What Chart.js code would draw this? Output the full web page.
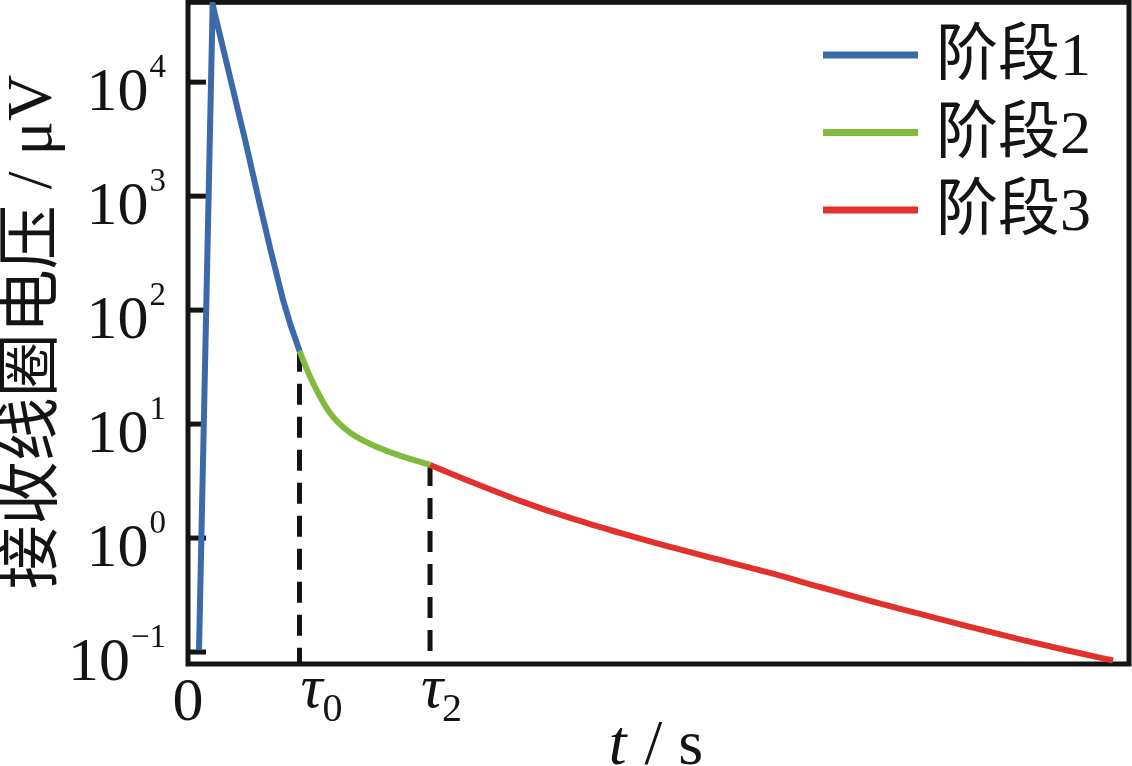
<!DOCTYPE html>
<html><head><meta charset="utf-8">
<script src="https://cdn.jsdelivr.net/npm/chart.js@4.4.1/dist/chart.umd.min.js"></script>
<style>html,body{margin:0;padding:0;background:#fff;overflow:hidden}#wrap{width:1132px;height:766px}</style>
</head><body><div id="wrap"><canvas id="c" width="1132" height="766"></canvas></div>
<script>
// ---- data ----
const stageLabels = ['阶段1', '阶段2', '阶段3'];
const stage1T = [1.17, 2.62, 4.58, 6.06, 7.44, 8.77, 10.10, 10.89, 11.85];
const stage1V = [0.104, 47900, 10100, 3130, 990, 338, 123, 74.3, 44];
const stage2T = [11.85, 12.22, 13.28, 15.09, 17.22, 20.09, 23.27, 25.72];
const stage2V = [44, 36.6, 23.0, 12.5, 8.4, 6.3, 5.05, 4.38];
const stage3T = [25.72, 29.97, 35.28, 40.60, 45.91, 51.22, 56.54, 61.85, 67.16, 72.48, 77.79, 83.10, 88.42, 93.73, 98.30];
const stage3V = [4.38, 3.14, 2.12, 1.50, 1.11, 0.836, 0.643, 0.494, 0.372, 0.281, 0.216, 0.166, 0.129, 0.102, 0.0842];
const tau0 = 11.85, tau2 = 25.72;
const tau0V = 44, tau2V = 4.38;
const xTickValues = [0, tau0, tau2];
const xTickMain = ['0', 'τ', 'τ'];
const xTickSub = ['', '0', '2'];
const yTickExponents = [-1, 0, 1, 2, 3, 4];
const xMin = 0, xMax = 100, yMin = 0.0785, yMax = 50500;
const xTitle = ['t', ' / s'];
const yTitle = '接收线圈电压 / μV';

const colors = ['#3b69a9', '#80bb3d', '#e2312d'];
const ink = '#141414';
const SERIF = '"Liberation Serif", "Noto Sans CJK SC", serif';

const pts = (T, V) => T.map((t, i) => ({ x: t, y: V[i] }));

const deco = {
  id: 'deco',
  beforeDatasetsDraw(chart) {
    const { ctx, chartArea: a, scales: { y } } = chart;
    ctx.save();
    ctx.strokeStyle = ink;
    ctx.lineWidth = 5;
    ctx.strokeRect(a.left, a.top + 0.3, a.right - a.left, a.bottom - a.top - 0.3);
    yTickExponents.forEach(e => {
      const py = y.getPixelForValue(Math.pow(10, e));
      ctx.beginPath();
      ctx.moveTo(a.left, py);
      ctx.lineTo(a.left + 18, py);
      ctx.stroke();
    });
    ctx.restore();
  },
  afterDraw(chart) {
    const { ctx, scales: { x, y } } = chart;
    ctx.save();
    ctx.fillStyle = ink;
    // y tick labels
    yTickExponents.forEach(e => {
      const py = y.getPixelForValue(Math.pow(10, e));
      const expTxt = e < 0 ? '\u2212' + Math.abs(e) : String(e);
      ctx.textAlign = 'right';
      ctx.textBaseline = 'alphabetic';
      ctx.font = '33px ' + SERIF;
      ctx.fillText(expTxt, 166, py - 5);
      const w = ctx.measureText(expTxt).width;
      ctx.font = '62px ' + SERIF;
      ctx.fillText('10', 166 - w - 1, py + 28);
    });
    // x tick labels
    const mainOff = [0, 12, 2];
    const subOff = [0, 23, 12];
    xTickValues.forEach((v, i) => {
      const px = x.getPixelForValue(v);
      ctx.textAlign = 'center';
      ctx.textBaseline = 'alphabetic';
      if (xTickSub[i] === '') {
        ctx.font = '62px ' + SERIF;
        ctx.fillText(xTickMain[i], px, 720);
      } else {
        ctx.font = 'italic 62px ' + SERIF;
        ctx.fillText(xTickMain[i], px + mainOff[i], 707);
        ctx.textAlign = 'left';
        ctx.font = '40px ' + SERIF;
        ctx.fillText(xTickSub[i], px + subOff[i], 721);
      }
    });
    // x title
    ctx.textAlign = 'left';
    ctx.font = 'italic 64px ' + SERIF;
    const w1 = ctx.measureText(xTitle[0]).width;
    ctx.font = '64px ' + SERIF;
    const w2 = ctx.measureText(xTitle[1]).width;
    const sx = 655 - (w1 + w2) / 2;
    ctx.font = 'italic 64px ' + SERIF;
    ctx.fillText(xTitle[0], sx, 764);
    ctx.font = '64px ' + SERIF;
    ctx.fillText(xTitle[1], sx + w1 + 2, 764);
    // y title
    ctx.save();
    ctx.translate(34, 332);
    ctx.rotate(-Math.PI / 2);
    ctx.textAlign = 'center';
    ctx.textBaseline = 'middle';
    ctx.font = '64px ' + SERIF;
    ctx.fillText(yTitle, 0, 0);
    ctx.restore();
    // legend
    stageLabels.forEach((lab, i) => {
      const ly = 55 + i * 77.5;
      ctx.strokeStyle = colors[i];
      ctx.lineWidth = 7;
      ctx.beginPath();
      ctx.moveTo(823, ly);
      ctx.lineTo(918, ly);
      ctx.stroke();
      ctx.fillStyle = ink;
      ctx.textAlign = 'left';
      ctx.textBaseline = 'middle';
      ctx.font = '62px ' + SERIF;
      ctx.fillText(lab, 936, ly + 4);
    });
    ctx.restore();
  }
};

new Chart(document.getElementById('c').getContext('2d'), {
  type: 'line',
  data: {
    datasets: [
      { label: stageLabels[0], data: pts(stage1T, stage1V), borderColor: colors[0], borderWidth: 6, pointRadius: 0, tension: 0, order: 1 },
      { label: stageLabels[1], data: pts(stage2T, stage2V), borderColor: colors[1], borderWidth: 6, pointRadius: 0, cubicInterpolationMode: 'monotone', order: 1 },
      { label: stageLabels[2], data: pts(stage3T, stage3V), borderColor: colors[2], borderWidth: 6, pointRadius: 0, cubicInterpolationMode: 'monotone', order: 1 },
      { label: 'tau0', data: [{ x: tau0, y: tau0V }, { x: tau0, y: yMin }], borderColor: ink, borderWidth: 5, borderDash: [21, 12], pointRadius: 0, order: 2 },
      { label: 'tau2', data: [{ x: tau2, y: tau2V }, { x: tau2, y: yMin }], borderColor: ink, borderWidth: 5, borderDash: [21, 12], pointRadius: 0, order: 2 }
    ]
  },
  options: {
    responsive: false,
    animation: false,
    devicePixelRatio: 1,
    layout: { padding: { left: 188, top: 2, right: 3, bottom: 102 } },
    plugins: { legend: { display: false }, tooltip: { enabled: false } },
    scales: {
      x: { type: 'linear', min: xMin, max: xMax, bounds: 'data', display: false },
      y: { type: 'logarithmic', min: yMin, max: yMax, bounds: 'data', display: false }
    }
  },
  plugins: [deco]
});
</script>
</body></html>
